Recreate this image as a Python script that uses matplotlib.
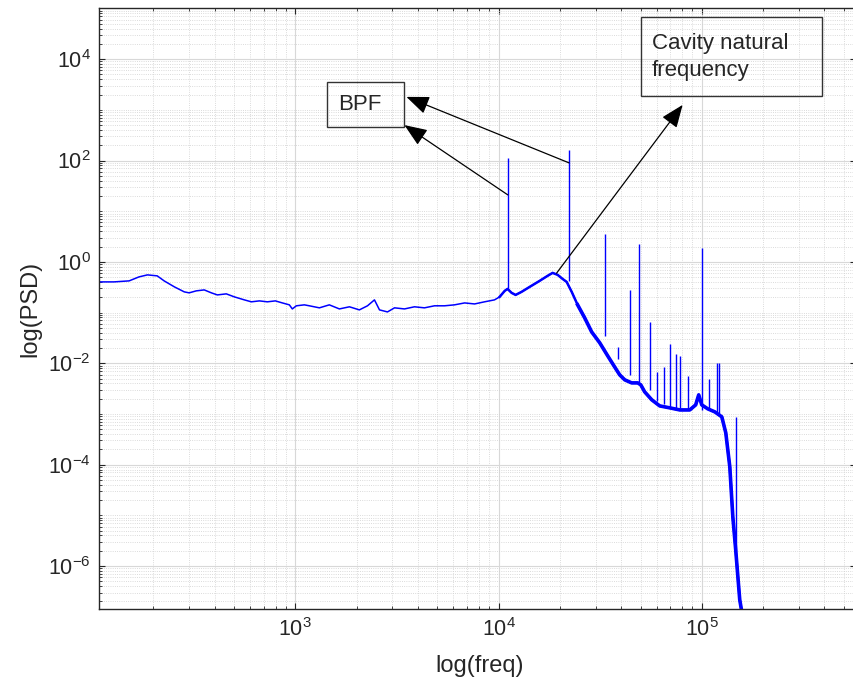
import numpy as np
import matplotlib.pyplot as plt
from matplotlib.ticker import FixedLocator, LogLocator, NullFormatter
from matplotlib.patches import Rectangle

plt.rcParams['font.family'] = ['Liberation Sans', 'DejaVu Sans']
plt.rcParams['mathtext.default'] = 'regular'
plt.rcParams['axes.unicode_minus'] = False

# broadband spectrum
freq = [108, 128, 152, 170, 187, 209, 226, 254, 284, 300,
        325, 356, 386, 413, 457, 501, 561, 607, 665, 728,
        797, 863, 934, 966, 1011, 1107, 1172, 1313, 1469, 1647,
        1845, 2065, 2264, 2450, 2594, 2840, 3075, 3443, 3855, 4317,
        4838, 5420, 6067, 6808, 7621, 8531, 9550, 10120, 10720, 11070,
        11590, 12130, 12970, 14220, 15920, 17420, 18450, 19540, 20650, 21630,
        22910, 24490, 26540, 28710, 31470, 34440, 37240, 39450, 41780, 45190,
        48420, 50100, 52360, 56750, 62110, 69500, 77950, 87300, 93350, 96600,
        100000, 107100, 115900, 125500, 131300, 137400, 142200, 146900, 150300, 153800,
        157400]
psd = [0.403, 0.403, 0.422, 0.506, 0.554, 0.530, 0.422, 0.321, 0.256, 0.245,
       0.268, 0.280, 0.245, 0.223, 0.234, 0.204, 0.178, 0.163, 0.170, 0.163,
       0.170, 0.155, 0.142, 0.118, 0.136, 0.142, 0.136, 0.124, 0.142, 0.118,
       0.130, 0.113, 0.136, 0.178, 0.113, 0.103, 0.124, 0.118, 0.130, 0.124,
       0.136, 0.136, 0.142, 0.155, 0.148, 0.163, 0.178, 0.204, 0.268, 0.293,
       0.245, 0.223, 0.256, 0.321, 0.422, 0.530, 0.607, 0.554, 0.462, 0.403,
       0.256, 0.142, 0.0786, 0.0416, 0.0253, 0.0140, 0.00849, 0.00591, 0.00471, 0.00410,
       0.00410, 0.00375, 0.00273, 0.00190, 0.00144, 0.00132, 0.00120, 0.00120, 0.00151, 0.00238,
       0.00151, 0.00126, 0.00110, 0.000877, 0.000424, 9.05e-5, 9.34e-6, 2.09e-6, 6.7e-7, 2.15e-7,
       1.25e-7]

# tonal peaks
peak_freq = [11100, 22200, 33300, 38500, 44400, 48900, 55500, 60000, 65000,
             70000, 75000, 78000, 86000, 100000, 109000, 119000, 122000, 147000]
peak_base = [0.28, 0.42, 0.035, 0.012, 0.006, 0.0042, 0.003, 0.0018, 0.0016,
             0.0014, 0.0013, 0.0013, 0.0012, 0.0012, 0.0013, 0.0011, 0.0010, 2.0e-6]
peak_top = [110, 160, 3.6, 0.021, 0.28, 2.3, 0.065, 0.0068, 0.0085,
            0.024, 0.015, 0.014, 0.0056, 1.9, 0.005, 0.010, 0.010, 8.8e-4]

fig = plt.figure(figsize=(8.54, 6.93), dpi=100)
ax = fig.add_axes([0.1159, 0.1208, 0.8864, 0.867])

f = np.array(freq)
p = np.array(psd)
ax.loglog(f, p, color='b', lw=1.1)
mid = f >= 10100
ax.loglog(f[mid], p[mid], color='b', lw=1.8, solid_joinstyle='round')
hi = f >= 24000
ax.loglog(f[hi], p[hi], color='b', lw=2.6, solid_joinstyle='round')
ax.vlines(peak_freq, peak_base, peak_top, color='b', lw=1.0)

ax.set_xlim(108, 5.74e5)
ax.set_ylim(1.4e-7, 1e5)

ax.xaxis.set_major_locator(LogLocator(base=10, numticks=20))
ax.xaxis.set_minor_locator(LogLocator(base=10, subs=np.arange(2, 10), numticks=50))
ax.xaxis.set_minor_formatter(NullFormatter())
ax.yaxis.set_major_locator(FixedLocator([1e-6, 1e-4, 1e-2, 1, 1e2, 1e4]))
ax.yaxis.set_minor_locator(LogLocator(base=10, subs=np.arange(1, 10), numticks=60))
ax.yaxis.set_minor_formatter(NullFormatter())

ax.grid(True, which='major', color='#d8d8d8', lw=0.8, ls='-')
ax.grid(True, which='minor', color='#cfcfcf', lw=0.6, ls=':')
ax.set_axisbelow(True)

for s in ax.spines.values():
    s.set_color('#262626')
    s.set_linewidth(1.0)
ax.tick_params(which='both', direction='in', top=True, right=True,
               colors='#262626', labelsize=15.5, pad=6)
ax.tick_params(which='major', length=4.5)
ax.tick_params(which='minor', length=2.5)

ax.set_xlabel('log(freq)', fontsize=17, color='#262626')
ax.set_ylabel('log(PSD)', fontsize=17, color='#262626')
ax.xaxis.set_label_coords(0.503, -0.076)
ax.yaxis.set_label_coords(-0.076, 0.5)

# annotation arrows
arrow = dict(arrowstyle='-|>,head_length=1.0,head_width=0.4', mutation_scale=14,
             color='k', lw=0.9, shrinkA=0, shrinkB=0)
ax.annotate('', xy=(3440, 500), xytext=(11100, 21), arrowprops=arrow)
ax.annotate('', xy=(3520, 1800), xytext=(22200, 90), arrowprops=arrow)
ax.annotate('', xy=(80500, 1250), xytext=(19300, 0.6), arrowprops=arrow)

# text boxes
fig.add_artist(Rectangle((0.383, 0.8167), 0.090, 0.065, transform=fig.transFigure,
                         fill=False, ec='#333333', lw=1.0))
fig.text(0.396, 0.849, 'BPF', fontsize=16, va='center', ha='left', color='#262626')
fig.add_artist(Rectangle((0.7506, 0.8615), 0.212, 0.114, transform=fig.transFigure,
                         fill=False, ec='#333333', lw=1.0))
fig.text(0.763, 0.918, 'Cavity natural\nfrequency', fontsize=16, va='center', ha='left',
         color='#262626', linespacing=1.35)

fig.savefig('out.png', dpi=100)
